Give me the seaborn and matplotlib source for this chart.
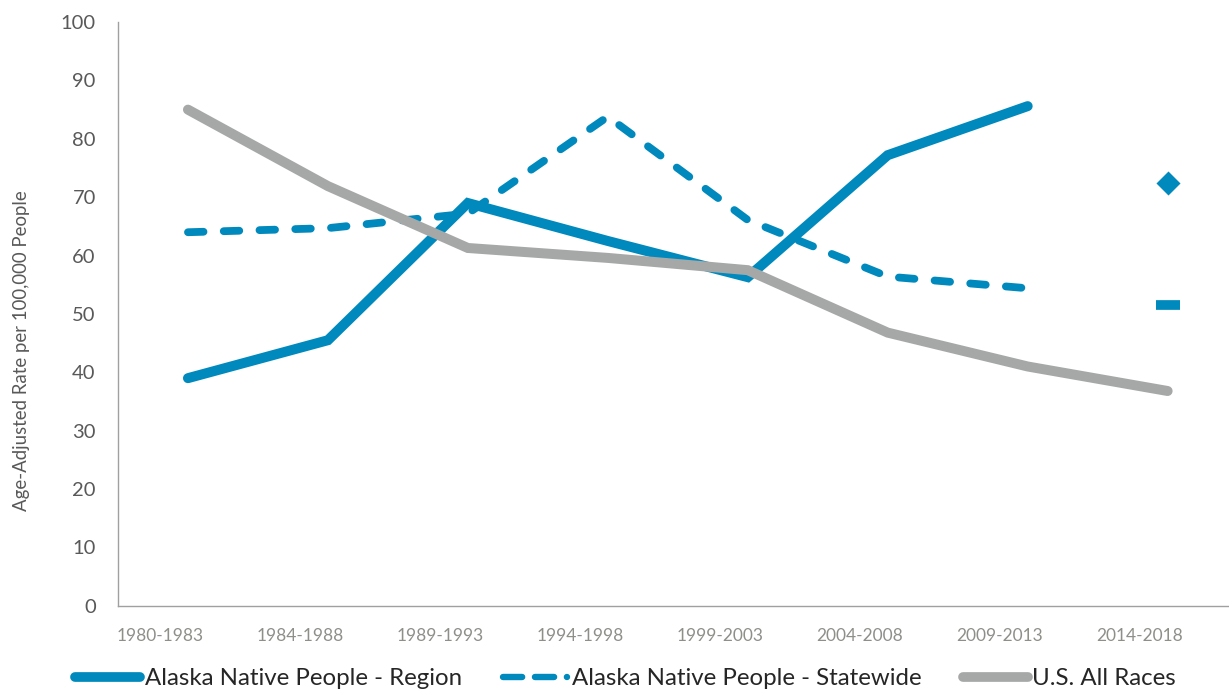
import pandas as pd
import matplotlib
matplotlib.use("Agg")
import matplotlib.pyplot as plt
import matplotlib.transforms as mtransforms
from matplotlib.lines import Line2D
import seaborn as sns

# Data
periods = ["1980-1983", "1984-1988", "1989-1993", "1994-1998",
           "1999-2003", "2004-2008", "2009-2013", "2014-2018"]
region = [39.0, 45.5, 69.0, 62.5, 56.3, 77.2, 85.6]
statewide = [64.0, 64.7, 67.2, 83.8, 66.1, 56.4, 54.4]
us_all = [85.0, 71.9, 61.3, 59.6, 57.5, 46.8, 41.0, 36.8]
region_latest = 72.5
statewide_latest = 51.6

names = ["Alaska Native People - Region", "Alaska Native People - Statewide", "U.S. All Races"]
blue = "#0089BD"
grey = "#A6A8A7"

# Long-form table for the lines
rows = []
for name, vals in zip(names, [region, statewide, us_all]):
    for p, v in zip(periods, vals):
        rows.append({"period": p, "rate": v, "series": name})
df = pd.DataFrame(rows)

latest = pd.DataFrame({"period": [periods[-1], periods[-1]],
                       "rate": [region_latest, statewide_latest],
                       "series": names[:2]})

sns.set_style("white")
plt.rcParams["font.family"] = ["Lato", "DejaVu Sans"]

fig = plt.figure(figsize=(12.29, 6.9), dpi=100)
ax = fig.add_axes([0.096, 0.122, 0.911, 0.846])

palette = {names[0]: blue, names[1]: blue, names[2]: grey}
sns.lineplot(data=df, x="period", y="rate", hue="series", style="series",
             palette=palette, dashes={names[0]: "", names[1]: (2.0, 2.6), names[2]: ""},
             sort=False, legend=False, ax=ax)

widths = [7.2, 5.6, 7.2]
for line, lw in zip(ax.lines, widths):
    line.set_linewidth(lw)
    line.set_solid_capstyle("round")
    line.set_dash_capstyle("round")
    line.set_solid_joinstyle("miter")
    line.set_dash_joinstyle("round")

# Latest period shown only as markers for the Alaska Native series
sns.scatterplot(data=latest.iloc[[0]], x="period", y="rate", marker="D",
                s=150, color=blue, linewidth=0, ax=ax, legend=False)
ax.plot(latest["period"].iloc[1], latest["rate"].iloc[1], marker="_",
        markersize=17, markeredgewidth=7, color=blue, solid_capstyle="round",
        linestyle="none")

ax.set_xlim(-0.5, 7.5)
ax.set_ylim(0, 100)
ax.set_yticks(range(0, 101, 10))
ax.set_xlabel("")
ax.set_ylabel("Age-Adjusted Rate per 100,000 People", fontsize=13.4, color="#595959")
ax.yaxis.set_label_coords(-0.079, 0.437)

for s in ["top", "right"]:
    ax.spines[s].set_visible(False)
for s in ["left", "bottom"]:
    ax.spines[s].set_color("#A0A0A0")
    ax.spines[s].set_linewidth(1.0)

ax.tick_params(axis="y", length=0, pad=16, labelsize=14.5, labelcolor="#595959")
ax.tick_params(axis="x", length=0, pad=16, labelsize=12.5, labelcolor="#8F8F8A")

# category labels sit a little left of the data points in the original
shift = mtransforms.ScaledTranslation(-0.28, 0, fig.dpi_scale_trans)
for lab in ax.get_xticklabels():
    lab.set_transform(lab.get_transform() + shift)

handles = [
    Line2D([], [], color=blue, lw=7.0, solid_capstyle="round"),
    Line2D([], [], color=blue, lw=4.6, dashes=(3.0, 2.0), dash_capstyle="round"),
    Line2D([], [], color=grey, lw=7.0, solid_capstyle="round"),
]
fig.legend(handles, names, loc="lower center", bbox_to_anchor=(0.509, -0.03),
           ncol=3, frameon=False, fontsize=17.3, handlelength=2.7,
           handletextpad=0.2, columnspacing=1.7)

fig.savefig("out.png", dpi=100)
